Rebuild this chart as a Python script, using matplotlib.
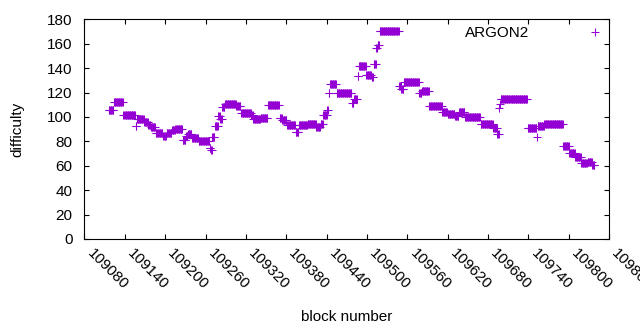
import numpy as np
import matplotlib
matplotlib.use("Agg")
import matplotlib.pyplot as plt

plt.rcParams['font.family'] = ['Liberation Sans', 'DejaVu Sans']

# difficulty per block, stored as runs: first block of each run and its difficulty
run_start = [109116, 109124, 109138, 109156, 109158, 109169, 109175, 109179, 109186, 109197,
             109202, 109210, 109215, 109226, 109231, 109234, 109240, 109250, 109266, 109268,
             109270, 109274, 109279, 109282, 109285, 109289, 109306, 109313, 109328, 109331,
             109342, 109353, 109370, 109374, 109381, 109394, 109399, 109412, 109425, 109431,
             109435, 109441, 109443, 109445, 109455, 109478, 109481, 109486, 109488, 109499,
             109507, 109510, 109514, 109516, 109519, 109548, 109551, 109555, 109578, 109582,
             109593, 109612, 109620, 109631, 109637, 109646, 109669, 109688, 109694, 109697,
             109698, 109699, 109739, 109753, 109754, 109764, 109792, 109801, 109810, 109819,
             109828, 109835]
run_value = [105.5, 112.6, 102.0, 92.7, 98.0, 95.5, 93.5, 91.4, 86.7, 84.5,
             87.0, 89.0, 90.5, 81.5, 84.0, 86.0, 83.0, 80.5, 74.5, 72.8,
             83.5, 92.7, 101.0, 98.5, 108.0, 110.7, 109.0, 103.6, 101.5, 98.0,
             99.5, 109.4, 99.5, 97.4, 93.0, 88.0, 93.8, 94.6, 92.0, 94.6,
             101.5, 105.5, 119.7, 126.8, 120.0, 111.7, 115.0, 133.4, 141.5, 134.0,
             132.8, 143.0, 156.7, 159.3, 170.2, 125.2, 123.0, 128.5, 119.7, 121.0,
             108.8, 104.0, 102.8, 100.6, 104.0, 99.8, 94.6, 90.6, 86.0, 107.0,
             111.0, 114.5, 91.0, 83.2, 92.5, 94.6, 76.0, 70.6, 67.4, 62.0,
             63.3, 60.5]
last_block = 109838

x_ticks = list(range(109080, 109861, 60))
y_ticks = list(range(0, 181, 20))

ends = run_start[1:] + [last_block + 1]
blocks = np.concatenate([np.arange(s, e) for s, e in zip(run_start, ends)])
diff = np.concatenate([np.full(e - s, v) for s, e, v in zip(run_start, ends, run_value)])

fig = plt.figure(figsize=(6.4, 3.3), dpi=100)
ax = fig.add_axes([0.132, 0.2758, 0.8196, 0.6657])

ax.plot(blocks, diff, linestyle='none', marker='+', color='#9400d3',
        markersize=5.5, markeredgewidth=0.75, label='ARGON2')

ax.set_xlim(109080, 109860)
ax.set_ylim(0, 180)
ax.set_xticks(x_ticks)
ax.set_yticks(y_ticks)
ax.set_xticklabels([str(t) for t in x_ticks], rotation=-45, ha='left', va='top')

for s in ax.spines.values():
    s.set_linewidth(0.8)
ax.tick_params(direction='in', length=3.5, width=0.8, top=True, right=True,
               labelsize=11)
ax.tick_params(axis='y', pad=8.5)
ax.tick_params(axis='x', pad=5)

ax.set_xlabel('block number', fontsize=11)
ax.set_ylabel('difficulty', fontsize=11)
ax.xaxis.set_label_coords(0.5, -0.324)
ax.yaxis.set_label_coords(-0.115, 0.5)

ax.legend(loc='upper right', bbox_to_anchor=(1.008, 0.982), frameon=False,
          markerfirst=False, numpoints=1, fontsize=11, handlelength=2,
          handletextpad=3.3, borderpad=0.2, borderaxespad=0.0)

fig.savefig('out.png', dpi=100)
